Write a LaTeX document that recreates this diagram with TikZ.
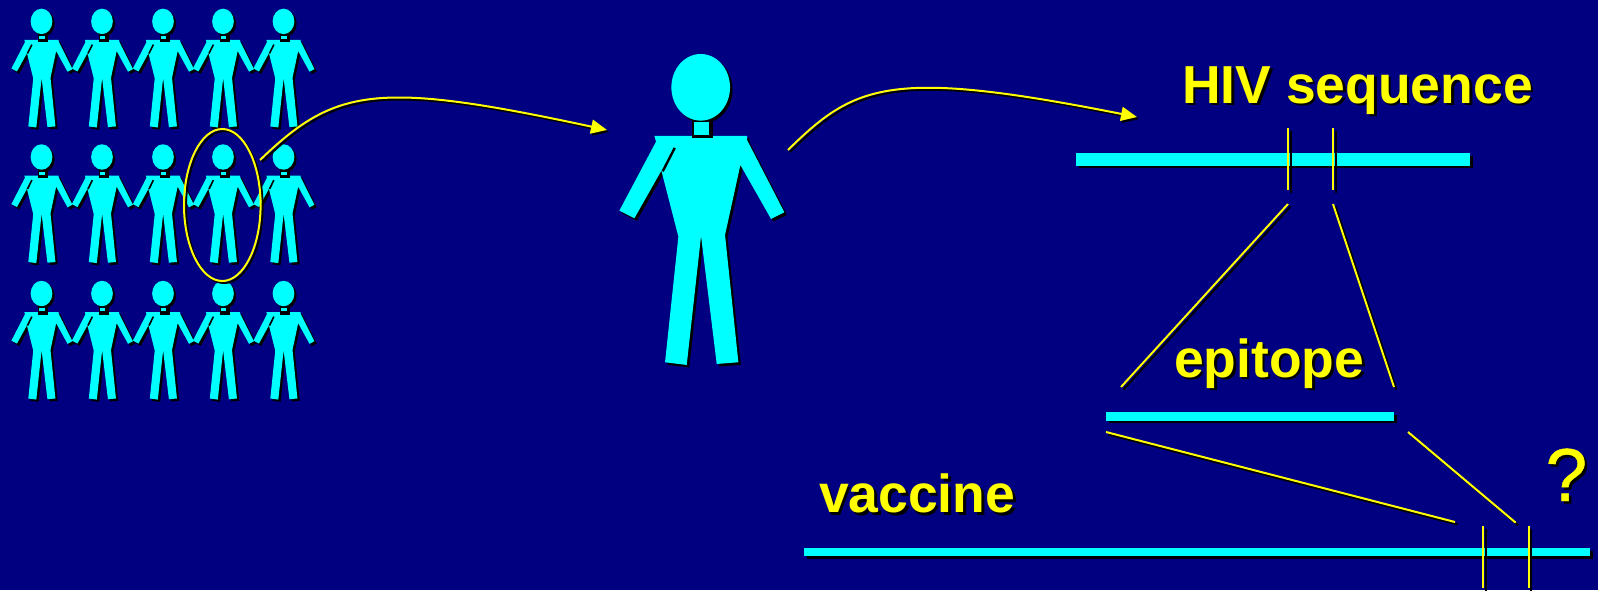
\documentclass[tikz,border=0pt]{standalone}
\usepackage{fontspec}
\setmainfont{Liberation Sans}
\newfontfamily\qfont[FakeBold=0.6]{Liberation Sans}
\usetikzlibrary{arrows.meta,shadows}
\definecolor{navybg}{HTML}{000080}
\definecolor{figcyan}{HTML}{00FFFF}
\definecolor{liney}{HTML}{FFFF00}
\tikzset{
  barbox/.style={fill=figcyan,inner sep=0pt,outer sep=0pt,minimum height=#1,
     general shadow={shadow xshift=2.5pt,shadow yshift=-2.5pt,fill=black}},
  labeltext/.style={inner sep=0pt,outer sep=0pt,anchor=base west,font=\fontsize{53.5}{60}\selectfont\bfseries},
  marktext/.style={inner sep=0pt,outer sep=0pt,anchor=base west,font=\fontsize{75}{80}\selectfont\qfont},
  ylin/.style={liney,line width=2pt},
  blin/.style={black,line width=2pt},
  tipped/.style={-{Triangle[length=16pt,width=14pt]}}
}
\newcommand{\shline}[3][2.5]{%
  \draw[blin] ([shift={(#1,#1)}]#2) -- ([shift={(#1,#1)}]#3);
  \draw[ylin] (#2) -- (#3);}
\newcommand{\shcurve}[4]{%
  \draw[blin,tipped] ([shift={(2,2)}]#1) .. controls ([shift={(2,2)}]#2) and ([shift={(2,2)}]#3) .. ([shift={(2,2)}]#4);
  \draw[ylin,tipped] (#1) .. controls (#2) and (#3) .. (#4);}
\newcommand{\person}[6]{%
 \begin{scope}[shift={(#1,#2)},x=#3pt,y=-#4pt]
  \def\bodypath{(-139,146) -- (139,146) -- (139,158) -- (251,375) -- (211,395) -- (119,233) -- (73,443) -- (113,825) -- (48,830) -- (1,446) -- (-42,833) -- (-107,825) -- (-67,448) -- (-118,250) -- (-199,393) -- (-244,370) -- (-134,163) -- cycle}
  \begin{scope}[xshift=#5pt,yshift=-#5pt]
   \fill[black] \bodypath;
   \fill[black] (0,0) ellipse[x radius=88,y radius=100];
  \end{scope}
  \fill[figcyan] \bodypath;
  \draw[black,line width=#6pt] (-78,182) -- (-114,252);
  \fill[black] \neckouter;
  \fill[figcyan] \neckinner;
  \fill[figcyan] (0,0) ellipse[x radius=88,y radius=100];
 \end{scope}}
\begin{document}
\begin{tikzpicture}[x=1pt,y=-1pt]
\useasboundingbox[fill=navybg] (0,0) rectangle (1598,590);

% crowd
\def\neckouter{(-27,102) rectangle (54,165)}
\def\neckinner{(-19,115) rectangle (27,141)}
\foreach \py in {21.4,157,293.5}{
  \foreach \px in {41.5,102,163,223,283.5}{
    \person{\px}{\py}{0.1233}{0.1273}{2.3}{1.6}
  }
}
% single person
\def\neckouter{(-25,98) rectangle (38,151)}
\def\neckinner{(-19,103) rectangle (26,143)}
\person{700.7}{87.3}{0.3333}{0.3333}{2.5}{2.4}

% circled individual
\draw[blin] (224.3,207) ellipse[x radius=38.3,y radius=76];
\draw[ylin] (222.3,205) ellipse[x radius=38.3,y radius=76];

% bars
\node[barbox=12.5pt,minimum width=394pt] (seqbar) at (1273,159.5) {};
\node[barbox=8.5pt,minimum width=288pt] (epibar) at (1250,416.7) {};
\node[barbox=8pt,minimum width=786pt] (vacbar) at (1197,552) {};

% named points
\coordinate (crowdout) at (260,160);
\coordinate (c1a) at (335,88);
\coordinate (c1b) at (375,80);
\coordinate (personin) at (607,130);
\coordinate (personout) at (788,150);
\coordinate (c2a) at (855,84);
\coordinate (c2b) at (890,68);
\coordinate (seqin) at (1137,117);
\coordinate (t1a) at (1288,128);
\coordinate (t1b) at (1288,190);
\coordinate (t2a) at (1333,128);
\coordinate (t2b) at (1333,190);
\coordinate (z1a) at (1288,204);
\coordinate (z1b) at (1121,387);
\coordinate (z2a) at (1333,204);
\coordinate (z2b) at (1394,387);
\coordinate (y1a) at (1106,432);
\coordinate (y1b) at (1455,522);
\coordinate (y2a) at (1408,432);
\coordinate (y2b) at (1515.7,522.7);
\coordinate (t3a) at (1483,526);
\coordinate (t3b) at (1483,588);
\coordinate (t4a) at (1528.7,526);
\coordinate (t4b) at (1528.7,588);

% curved arrows
\shcurve{crowdout}{c1a}{c1b}{personin}
\shcurve{personout}{c2a}{c2b}{seqin}

% lines
\shline{t1a}{t1b}
\shline{t2a}{t2b}
\shline{z1a}{z1b}
\shline{z2a}{z2b}
\shline{y1a}{y1b}
\shline{y2a}{y2b}
\shline{t3a}{t3b}
\shline{t4a}{t4b}

% labels
\node[labeltext,black] at (1184.5,105.5) {HIV sequence};
\node[labeltext,liney] (hivlabel) at (1182,103.5) {HIV sequence};
\node[labeltext,black] at (1176.5,379.5) {epitope};
\node[labeltext,liney] (epilabel) at (1174,377) {epitope};
\node[labeltext,black] at (821.5,515) {vaccine};
\node[labeltext,liney] (vaclabel) at (819,512.5) {vaccine};
\node[marktext,black] at (1548,503.5) {?};
\node[marktext,liney] (qmark) at (1545.5,501) {?};
\end{tikzpicture}
\end{document}
